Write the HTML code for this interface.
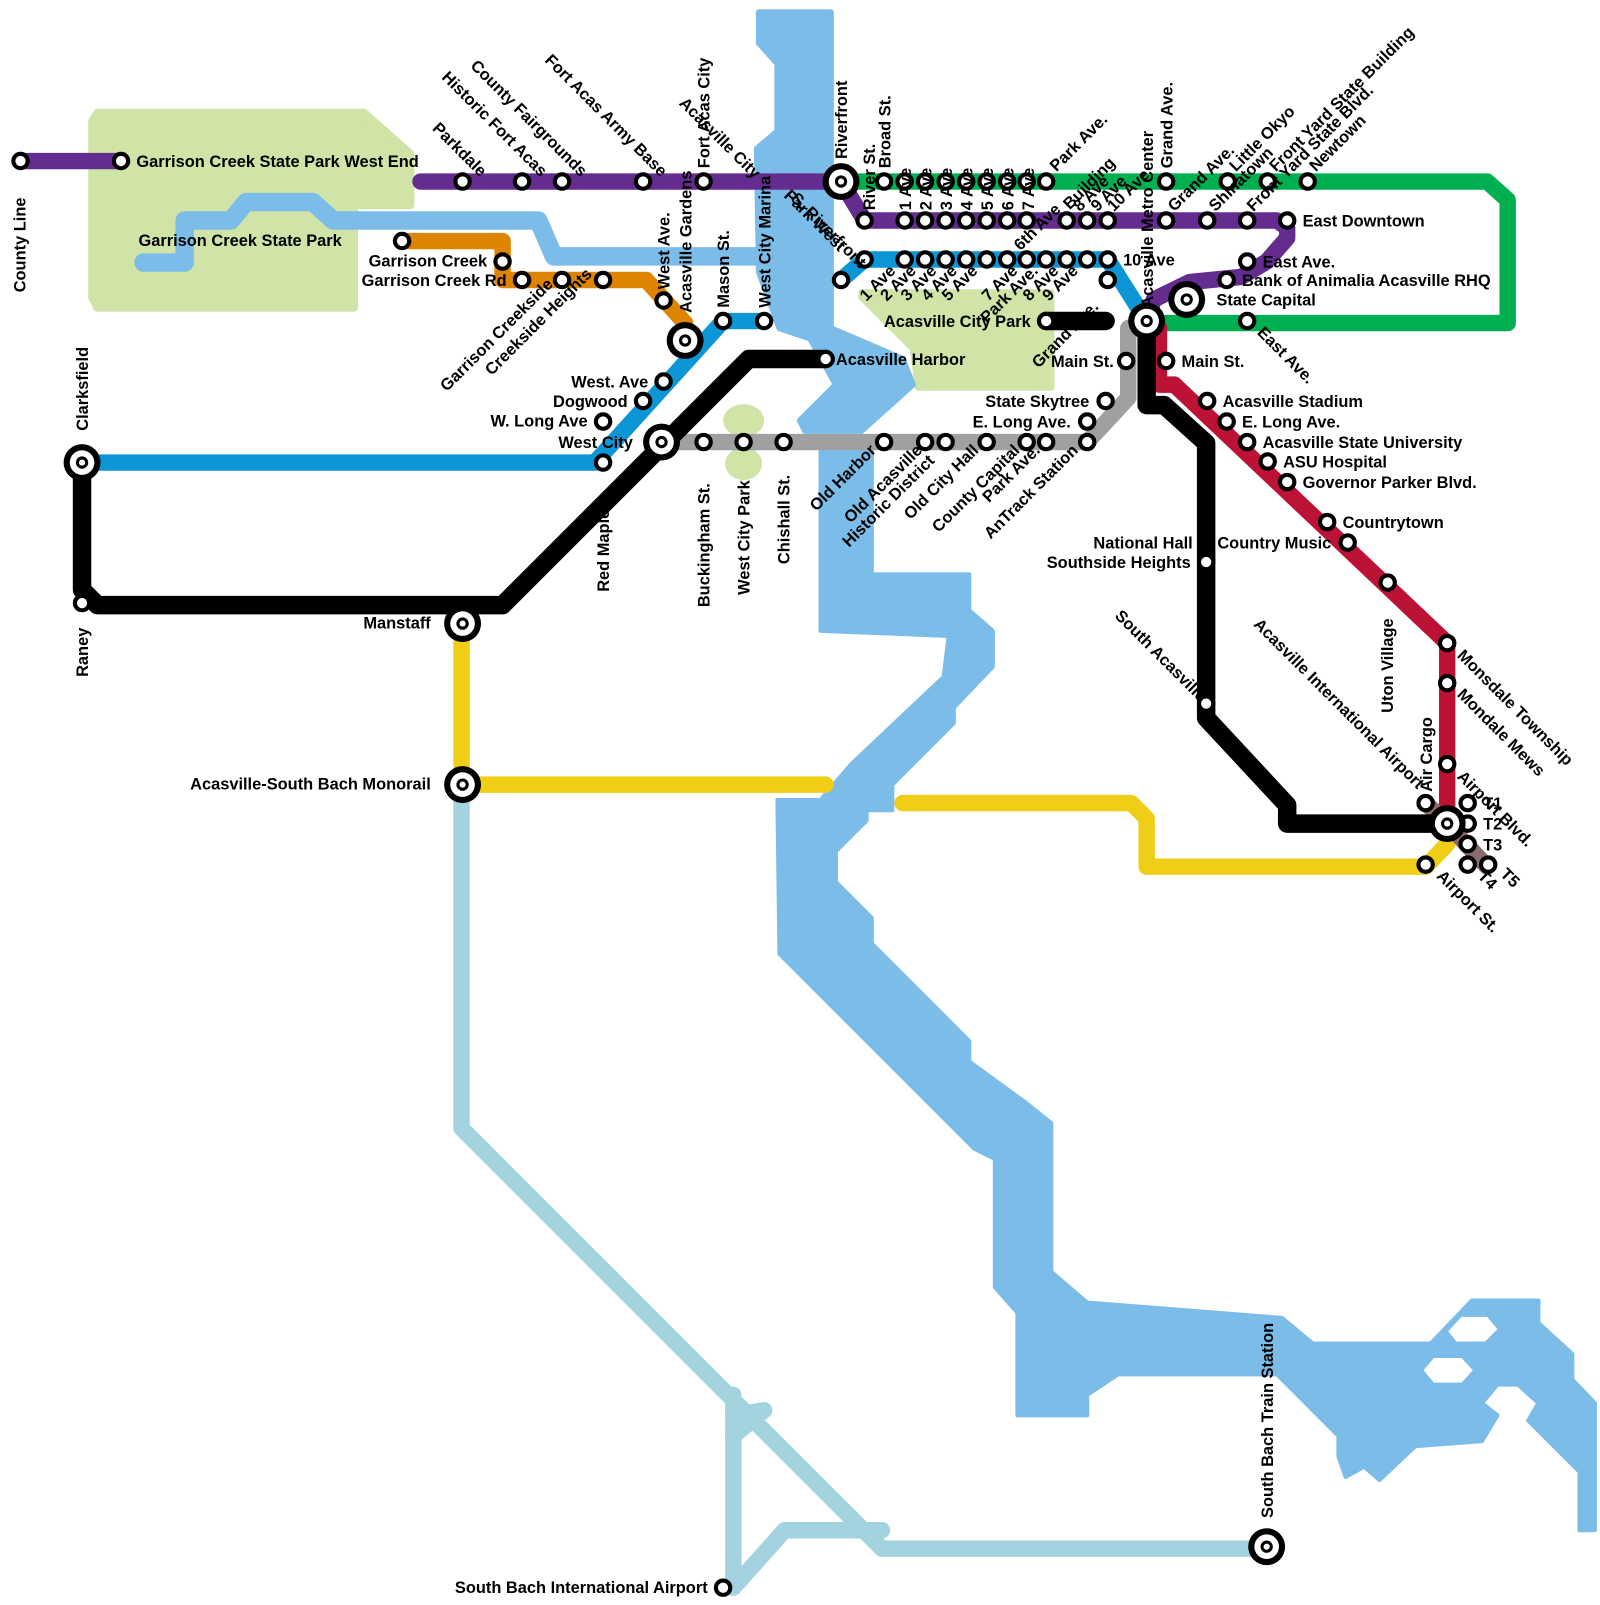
<!DOCTYPE html>
<html><head><meta charset="utf-8"><style>
html,body{margin:0;padding:0;background:#fff}
svg text{font-family:"Liberation Sans",sans-serif;font-weight:bold;font-size:16px;fill:#000}
</style></head><body>
<svg width="1600" height="1600" viewBox="0 0 1560 1560" xmlns="http://www.w3.org/2000/svg">
<defs>
<g id="s"><circle r="7" fill="#fff" stroke="#000" stroke-width="4"/></g>
<g id="x"><circle r="18" fill="#000"/><circle r="12" fill="#fff"/><circle r="6" fill="#000"/><circle r="3" fill="#fff"/></g>
</defs>
<!-- parks -->
<polygon points="95,110 355,110 400,150 400,200 345,200 345,300 95,300 90,290 90,118" fill="#cfe4a6" stroke="#cfe4a6" stroke-width="8" stroke-linejoin="round"/>
<polygon points="840,285 1025,285 1025,378 895,378 890,340 840,290" fill="#cfe4a6" stroke="#cfe4a6" stroke-width="6" stroke-linejoin="round"/>
<ellipse cx="725" cy="410" rx="20" ry="16" fill="#cfe4a6"/>
<ellipse cx="725" cy="452" rx="18" ry="16" fill="#cfe4a6"/>
<!-- water -->
<g fill="#7bbde8" stroke="#7bbde8" stroke-linejoin="round">
<polygon points="740,12 810,12 810,130 810,320 880,350 890,375 840,420 785,420 780,410 815,375 790,330 760,320 740,265 738,145 758,128 758,62 740,42" stroke-width="6"/>
<polygon points="800,440 850,440 850,560 945,560 945,595 968,615 968,650 930,690 930,705 870,765 870,790 845,790 845,800 815,830 815,860 850,895 850,920 945,1015 945,1035 1000,1075 1025,1095 1025,1240 1060,1270 1250,1285 1280,1310 1395,1310 1435,1268 1500,1268 1500,1290 1533,1320 1533,1345 1555,1368 1555,1492 1540,1492 1540,1435 1490,1385 1500,1368 1480,1350 1460,1350 1445,1368 1460,1380 1445,1405 1380,1410 1345,1443 1330,1430 1312,1440 1305,1420 1305,1400 1245,1340 1090,1340 1060,1360 1060,1380 992,1380 992,1280 970,1255 970,1130 950,1120 760,930 758,780 800,780 830,745 920,660 925,620 800,615" stroke-width="4"/>
</g>
<polygon points="1412,1298 1425,1284 1450,1284 1460,1296 1448,1308 1420,1308" fill="#fff"/>
<polygon points="1388,1336 1398,1324 1425,1324 1436,1336 1425,1348 1398,1348" fill="#fff"/>
<polyline points="140,256 180,256 180,215 225,215 240,197 305,197 325,215 525,215 540,250 745,250" fill="none" stroke="#7bbde8" stroke-width="18" stroke-linejoin="round" stroke-linecap="round"/>
<!-- lines -->
<g fill="none" stroke-width="16" stroke-linejoin="round" stroke-linecap="round">
<polyline stroke="#a3d3de" points="450,765 450,1100 860,1510 1235,1510"/>
<polyline stroke="#a3d3de" points="715,1360 715,1548 765,1492 860,1492"/>
<polyline stroke="#a3d3de" points="715,1380 745,1375 715,1400"/>
<polyline stroke="#f0cd17" points="450,608 450,765 805,765"/>
<polyline stroke="#f0cd17" points="880,783 1103,783 1118,798 1118,845 1390,845 1411,823"/>
<polyline stroke="#00b050" points="820,177 1450,177 1470,195 1470,315 1130,315"/>
<polyline stroke="#652c90" points="20,157 118,157"/>
<polyline stroke="#652c90" points="410,177 820,177 843,215 1245,215 1255,222 1255,232 1235,255 1210,270 1160,275 1125,292 1118,313"/>
<polyline stroke="#df8400" points="392,235 490,235 490,273 630,273 668,315"/>
<polyline stroke="#0d96d6" points="80,451 580,451 705,313 745,313"/>
<polyline stroke="#0d96d6" points="820,273 843,253 1080,253 1118,313"/>
<polyline stroke="#a0a0a0" points="645,431 1060,431 1100,388 1100,320 1118,313"/>
<polyline stroke="#bb1236" points="1130,320 1130,375 1145,375 1411,627 1411,800"/>
<polyline stroke="#8a6a6a" points="1390,783 1411,803 1450,845"/>
<polyline stroke="#000" stroke-width="18" points="80,451 80,575 95,590 490,590 730,350 805,350"/>
<polyline stroke="#000" stroke-width="18" points="1020,313 1078,313"/>
<polyline stroke="#000" stroke-width="18" points="1118,313 1118,395 1135,395 1176,432 1176,700 1255,785 1255,803 1411,803"/>
</g>
<!-- stations -->
<g>
<use href="#s" x="20" y="157"/><use href="#s" x="118" y="157"/>
<use href="#s" x="451" y="177"/><use href="#s" x="509" y="177"/><use href="#s" x="548" y="177"/><use href="#s" x="627" y="177"/><use href="#s" x="686" y="177"/>
<use href="#s" x="862" y="177"/><use href="#s" x="882" y="177"/><use href="#s" x="902" y="177"/><use href="#s" x="922" y="177"/><use href="#s" x="942" y="177"/><use href="#s" x="962" y="177"/><use href="#s" x="982" y="177"/><use href="#s" x="1001" y="177"/><use href="#s" x="1020" y="177"/><use href="#s" x="1137" y="177"/><use href="#s" x="1197" y="177"/><use href="#s" x="1236" y="177"/><use href="#s" x="1275" y="177"/>
<use href="#s" x="843" y="215"/><use href="#s" x="882" y="215"/><use href="#s" x="902" y="215"/><use href="#s" x="922" y="215"/><use href="#s" x="942" y="215"/><use href="#s" x="962" y="215"/><use href="#s" x="982" y="215"/><use href="#s" x="1001" y="215"/><use href="#s" x="1040" y="215"/><use href="#s" x="1060" y="215"/><use href="#s" x="1080" y="215"/><use href="#s" x="1137" y="215"/><use href="#s" x="1177" y="215"/><use href="#s" x="1216" y="215"/><use href="#s" x="1255" y="215"/>
<use href="#s" x="843" y="253"/><use href="#s" x="882" y="253"/><use href="#s" x="902" y="253"/><use href="#s" x="922" y="253"/><use href="#s" x="942" y="253"/><use href="#s" x="962" y="253"/><use href="#s" x="982" y="253"/><use href="#s" x="1001" y="253"/><use href="#s" x="1020" y="253"/><use href="#s" x="1040" y="253"/><use href="#s" x="1060" y="253"/><use href="#s" x="1080" y="253"/><use href="#s" x="1080" y="273"/><use href="#s" x="820" y="273"/>
<use href="#s" x="392" y="235"/><use href="#s" x="490" y="255"/><use href="#s" x="509" y="273"/><use href="#s" x="548" y="273"/><use href="#s" x="588" y="273"/><use href="#s" x="647" y="293"/>
<use href="#s" x="705" y="313"/><use href="#s" x="745" y="313"/><use href="#s" x="647" y="372"/><use href="#s" x="627" y="391"/><use href="#s" x="588" y="411"/><use href="#s" x="588" y="451"/>
<use href="#s" x="686" y="431"/><use href="#s" x="725" y="431"/><use href="#s" x="764" y="431"/><use href="#s" x="862" y="431"/><use href="#s" x="902" y="431"/><use href="#s" x="922" y="431"/><use href="#s" x="962" y="431"/><use href="#s" x="1001" y="431"/><use href="#s" x="1020" y="431"/><use href="#s" x="1060" y="431"/><use href="#s" x="1060" y="411"/><use href="#s" x="1078" y="391"/><use href="#s" x="1098" y="352"/>
<use href="#s" x="805" y="350"/><use href="#s" x="1020" y="313"/><use href="#s" x="80" y="588"/><use href="#s" x="1176" y="548"/><use href="#s" x="1176" y="686"/>
<use href="#s" x="1137" y="352"/><use href="#s" x="1177" y="391"/><use href="#s" x="1196" y="411"/><use href="#s" x="1216" y="431"/><use href="#s" x="1236" y="450"/><use href="#s" x="1255" y="470"/><use href="#s" x="1294" y="509"/><use href="#s" x="1314" y="529"/><use href="#s" x="1353" y="568"/><use href="#s" x="1411" y="627"/><use href="#s" x="1411" y="666"/><use href="#s" x="1411" y="745"/>
<use href="#s" x="1216" y="255"/><use href="#s" x="1196" y="273"/><use href="#s" x="1216" y="313"/>
<use href="#s" x="1390" y="783"/><use href="#s" x="1431" y="783"/><use href="#s" x="1431" y="803"/><use href="#s" x="1431" y="823"/><use href="#s" x="1431" y="843"/><use href="#s" x="1451" y="843"/><use href="#s" x="1390" y="843"/><use href="#s" x="705" y="1548"/>
<use href="#x" x="820" y="177"/><use href="#x" x="668" y="332"/><use href="#x" x="80" y="451"/><use href="#x" x="645" y="431"/><use href="#x" x="451" y="608"/><use href="#x" x="451" y="765"/><use href="#x" x="1118" y="313"/><use href="#x" x="1157" y="292"/><use href="#x" x="1411" y="803"/><use href="#x" x="1235" y="1508"/>
</g>
<!-- labels -->
<g>
<text x="133" y="163">Garrison Creek State Park West End</text>
<text x="135" y="240">Garrison Creek State Park</text>
<text x="475" y="260" text-anchor="end">Garrison Creek</text>
<text x="494" y="279" text-anchor="end">Garrison Creek Rd</text>
<text x="815" y="356">Acasville Harbor</text>
<text x="1005" y="319" text-anchor="end">Acasville City Park</text>
<text x="1086" y="358" text-anchor="end">Main St.</text>
<text x="1152" y="358">Main St.</text>
<text x="1062" y="397" text-anchor="end">State Skytree</text>
<text x="1044" y="417" text-anchor="end">E. Long Ave.</text>
<text x="632" y="378" text-anchor="end">West. Ave</text>
<text x="612" y="397" text-anchor="end">Dogwood</text>
<text x="573" y="416" text-anchor="end">W. Long Ave</text>
<text x="617" y="437" text-anchor="end">West City</text>
<text x="420" y="613" text-anchor="end">Manstaff</text>
<text x="420" y="770" text-anchor="end">Acasville-South Bach Monorail</text>
<text x="690" y="1553" text-anchor="end">South Bach International Airport</text>
<text x="1270" y="221">East Downtown</text>
<text x="1231" y="261">East Ave.</text>
<text x="1211" y="279">Bank of Animalia Acasville RHQ</text>
<text x="1186" y="298">State Capital</text>
<text x="1095" y="259">10 Ave</text>
<text x="1192" y="397">Acasville Stadium</text>
<text x="1211" y="417">E. Long Ave.</text>
<text x="1231" y="437">Acasville State University</text>
<text x="1251" y="456">ASU Hospital</text>
<text x="1270" y="476">Governor Parker Blvd.</text>
<text x="1309" y="515">Countrytown</text>
<text x="1298" y="535" text-anchor="end">National Hall of Country Music</text>
<text x="1161" y="554" text-anchor="end">Southside Heights</text>
<text x="1446" y="789">T1</text><text x="1446" y="809">T2</text><text x="1446" y="829">T3</text>
<text transform="translate(25,285) rotate(-90)">County Line</text>
<text transform="translate(86,420) rotate(-90)">Clarksfield</text>
<text transform="translate(86,660) rotate(-90)">Raney</text>
<text transform="translate(594,577) rotate(-90)">Red Maples</text>
<text transform="translate(692,592) rotate(-90)">Buckingham St.</text>
<text transform="translate(731,580) rotate(-90)">West City Park</text>
<text transform="translate(770,550) rotate(-90)">Chishall St.</text>
<text transform="translate(653,282) rotate(-90)">West Ave.</text>
<text transform="translate(674,305) rotate(-90)">Acasville Gardens</text>
<text transform="translate(692,164) rotate(-90)">Fort Acas City</text>
<text transform="translate(711,300) rotate(-90)">Mason St.</text>
<text transform="translate(751,300) rotate(-90)">West City Marina</text>
<text transform="translate(826,155) rotate(-90)">Riverfront</text>
<text transform="translate(1358,695) rotate(-90)">Uton Village</text>
<text transform="translate(1396,772) rotate(-90)">Air Cargo</text>
<text transform="translate(1241,1480) rotate(-90)">South Bach Train Station</text>
<text transform="translate(1124,300) rotate(-90)">Acasville Metro Center</text>
<text transform="translate(1143,164) rotate(-90)">Grand Ave.</text>
<text transform="translate(468,173) rotate(45)" text-anchor="end">Parkdale</text>
<text transform="translate(527,173) rotate(45)" text-anchor="end">Historic Fort Acas</text>
<text transform="translate(566,173) rotate(45)" text-anchor="end">County Fairgrounds</text>
<text transform="translate(644,173) rotate(45)" text-anchor="end">Fort Acas Army Base</text>
<text transform="translate(735,175) rotate(45)" text-anchor="end">Acasville City</text>
<text transform="translate(838,262) rotate(45)" text-anchor="end">S. Riverfront</text>
<text transform="translate(818,246) rotate(45)" text-anchor="end">Park West</text>
<text transform="translate(1170,685) rotate(45)" text-anchor="end">South Acasville</text>
<text transform="translate(1382,770) rotate(45)" text-anchor="end">Acasville International Airport</text>
<text transform="translate(1420,640) rotate(45)">Monsdale Township</text>
<text transform="translate(1420,678) rotate(45)">Mondale Mews</text>
<text transform="translate(1420,758) rotate(45)">Airport Blvd.</text>
<text transform="translate(1400,855) rotate(45)">Airport St.</text>
<text transform="translate(1225,325) rotate(45)">East Ave.</text>
<text transform="translate(1462,853) rotate(45)">T5</text>
<text transform="translate(1440,855) rotate(45)">T4</text>
<text transform="translate(578,268) rotate(-45)" text-anchor="end">Creekside Heights</text>
<text transform="translate(540,278) rotate(-45)" text-anchor="end">Garrison Creekside</text>
<text transform="translate(855,440) rotate(-45)" text-anchor="end">Old Harbor</text>
<text transform="translate(900,440) rotate(-45)" text-anchor="end">Old Acasville</text>
<text transform="translate(912,450) rotate(-45)" text-anchor="end">Historic District</text>
<text transform="translate(955,440) rotate(-45)" text-anchor="end">Old City Hall</text>
<text transform="translate(995,440) rotate(-45)" text-anchor="end">County Capital</text>
<text transform="translate(1015,440) rotate(-45)" text-anchor="end">Park Ave.</text>
<text transform="translate(1052,440) rotate(-45)" text-anchor="end">AnTrack Station</text>
<text transform="translate(1072,300) rotate(-45)" text-anchor="end">Grand Ave.</text>
<text transform="translate(874,265) rotate(-45)" text-anchor="end">1 Ave</text>
<text transform="translate(894,265) rotate(-45)" text-anchor="end">2 Ave</text>
<text transform="translate(914,265) rotate(-45)" text-anchor="end">3 Ave</text>
<text transform="translate(934,265) rotate(-45)" text-anchor="end">4 Ave</text>
<text transform="translate(954,265) rotate(-45)" text-anchor="end">5 Ave</text>
<text transform="translate(993,265) rotate(-45)" text-anchor="end">7 Ave</text>
<text transform="translate(1013,265) rotate(-45)" text-anchor="end">Park Ave.</text>
<text transform="translate(1033,265) rotate(-45)" text-anchor="end">8 Ave</text>
<text transform="translate(1052,265) rotate(-45)" text-anchor="end">9 Ave</text>
<text transform="translate(995,245) rotate(-45)">6th Ave</text>
<text transform="translate(1043,205) rotate(-45)">Building</text>
<text transform="translate(1053,207) rotate(-45)">8 Ave</text>
<text transform="translate(1070,207) rotate(-45)">9 Ave</text>
<text transform="translate(1086,207) rotate(-45)">10 Ave</text>
<text transform="translate(1030,168) rotate(-45)">Park Ave.</text>
<text transform="translate(1145,207) rotate(-45)">Grand Ave.</text>
<text transform="translate(1185,207) rotate(-45)">Shinatown</text>
<text transform="translate(1205,168) rotate(-45)">Little Okyo</text>
<text transform="translate(1222,207) rotate(-45)">Front Yard State Blvd.</text>
<text transform="translate(1244,168) rotate(-45)">Front Yard State Building</text>
<text transform="translate(1283,168) rotate(-45)">Newtown</text>
<text transform="translate(868,164) rotate(-90)">Broad St.</text>
<text transform="translate(853,205) rotate(-90)">River St.</text>
<text transform="translate(888,205) rotate(-90)">1 Ave</text>
<text transform="translate(908,205) rotate(-90)">2 Ave</text>
<text transform="translate(928,205) rotate(-90)">3 Ave</text>
<text transform="translate(948,205) rotate(-90)">4 Ave</text>
<text transform="translate(968,205) rotate(-90)">5 Ave</text>
<text transform="translate(988,205) rotate(-90)">6 Ave</text>
<text transform="translate(1008,205) rotate(-90)">7 Ave</text>
</g>
</svg>
</body></html>
